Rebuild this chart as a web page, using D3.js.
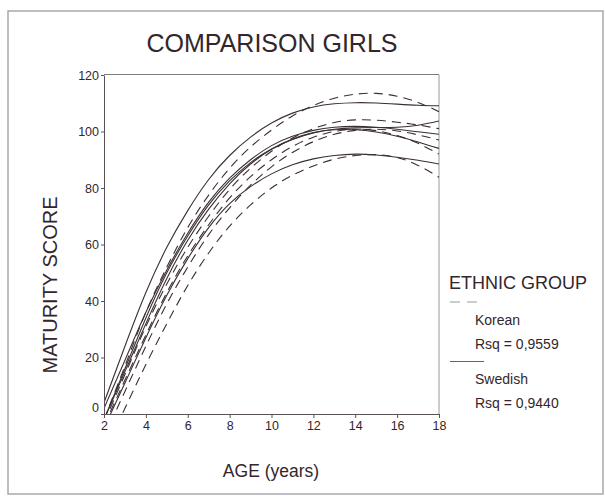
<!DOCTYPE html>
<html><head><meta charset="utf-8">
<script src="https://cdn.jsdelivr.net/npm/d3@7"></script>
<style>
body{margin:0;background:#fff}
text{font-family:"Liberation Sans",Arial,Helvetica,sans-serif;fill:#33262c}
</style>
</head><body>
<svg id="chart" width="605" height="496"></svg>
<script>
// ---- data ----
const ages = [2,3,4,5,6,7,8,9,10,11,12,13,14,15,16,17,18];

// Swedish (solid) fitted curves
const swedish1 = [4,24,43,59,72,83,91.5,98,103,106.5,108.7,109.8,110.2,110.1,109.7,109.3,109.1];
const swedish2 = [-2,16,34,50,63,74,82.5,89,93.8,97.2,99.5,100.8,101.3,101.4,101.5,102.2,103.7];
const swedish3 = [2,19,36,51,64,75,83.5,90,95,98.3,100.4,101.5,101.8,101.5,100.8,99.9,99];
const swedish4 = [-2,15,32,48,61.5,72.5,81.5,88.5,93.7,97.3,99.6,100.6,100.6,99.8,98.3,96.3,94];
const swedish5 = [-5,11,27,42,55,66,74.5,80.5,85,88.2,90.3,91.5,92,91.7,90.9,89.8,88.5];

// Korean (dashed) fitted curves
const korean1 = [-2,17,36,52,66,77.5,87,94.5,100.5,105.5,109.2,111.8,113.2,113.5,112.5,110.3,107];
const korean2 = [-3,14,31,46,59,70,79.5,87,93,97.7,101,103.2,104.1,104,103.3,102.3,101];
const korean3 = [-8,8,24,39,52,63.5,73,81,87.5,92.6,96.4,99,100.4,100.8,100.2,98.8,97];
const korean4 = [-4,12,28,43,56,67,76.5,84,90,94.7,98,100,100.8,100.3,98.6,95.8,92];
const korean5 = [-14,2,17.5,32,45.5,57,66.5,74,80,84.5,87.8,90.2,91.5,91.8,90.8,88,83.8];

const xTicks = [2,4,6,8,10,12,14,16,18];
const yTicks = [0,20,40,60,80,100,120];

const titleText = "COMPARISON GIRLS";
const xLabel = "AGE (years)";
const yLabel = "MATURITY SCORE";
const legendTitle = "ETHNIC GROUP";
const groupNames = ["Korean","Swedish"];
const groupRsq = ["Rsq = 0,9559","Rsq = 0,9440"];

// ---- drawing ----
const svg = d3.select("#chart");
const ink = "#3b2f35";

svg.append("rect").attr("x",8).attr("y",11).attr("width",595).attr("height",483)
  .attr("fill","none").attr("stroke","#a3a3a8").attr("stroke-width",1.4);

const x = d3.scaleLinear().domain([2,18]).range([104,439]);
const y = d3.scaleLinear().domain([0,120]).range([414,75]);

svg.append("defs").append("clipPath").attr("id","plotclip")
  .append("rect").attr("x",104).attr("y",75).attr("width",335).attr("height",339);

// plot frame (top & right)
svg.append("line").attr("x1",104).attr("x2",439).attr("y1",74.5).attr("y2",74.5)
  .attr("stroke","#7a7a82").attr("stroke-width",1);
svg.append("line").attr("x1",439).attr("x2",439).attr("y1",74.5).attr("y2",414)
  .attr("stroke","#9a9aa0").attr("stroke-width",1);

const line = d3.line().x((d,i)=>x(ages[i])).y(d=>y(d)).curve(d3.curveNatural);

const gCurves = svg.append("g").attr("clip-path","url(#plotclip)");
[swedish1,swedish2,swedish3,swedish4,swedish5].forEach(s=>{
  gCurves.append("path").attr("d",line(s)).attr("fill","none")
    .attr("stroke",ink).attr("stroke-width",1.1);
});
[korean1,korean2,korean3,korean4,korean5].forEach(s=>{
  gCurves.append("path").attr("d",line(s)).attr("fill","none")
    .attr("stroke",ink).attr("stroke-width",1.1).attr("stroke-dasharray","9,6");
});

// axes
const yAxis = svg.append("g").attr("transform","translate(104,0)")
  .call(d3.axisLeft(y).tickValues(yTicks).tickSize(3).tickSizeOuter(0).tickPadding(2));
const xAxis = svg.append("g").attr("transform","translate(0,414)")
  .call(d3.axisBottom(x).tickValues(xTicks).tickSize(4).tickSizeOuter(0).tickPadding(3));
[yAxis,xAxis].forEach(g=>{
  g.selectAll("path,line").attr("stroke","#5a5158");
  g.selectAll("text").attr("font-size","12.5px").attr("fill","#33262c")
    .style("font-family","'Liberation Sans',Arial,sans-serif");
});
yAxis.selectAll(".tick").filter(d=>d===0).select("text").attr("dy","-0.2em");

// titles
svg.append("text").attr("x",272).attr("y",52).attr("text-anchor","middle")
  .attr("font-size","25px").text(titleText);
svg.append("text").attr("transform","translate(57,285) rotate(-90)")
  .attr("text-anchor","middle").attr("font-size","20px").text(yLabel);
svg.append("text").attr("x",271).attr("y",477).attr("text-anchor","middle")
  .attr("font-size","17.5px").text(xLabel);

// legend
svg.append("text").attr("x",449).attr("y",289).attr("font-size","18px").text(legendTitle);
svg.append("line").attr("x1",450).attr("x2",484).attr("y1",302).attr("y2",302)
  .attr("stroke","#9a9aa0").attr("stroke-width",1.2).attr("stroke-dasharray","10,7");
svg.append("text").attr("x",475).attr("y",325).attr("font-size","14px").text(groupNames[0]);
svg.append("text").attr("x",475).attr("y",349).attr("font-size","14px").text(groupRsq[0]);
svg.append("line").attr("x1",450).attr("x2",484).attr("y1",361.5).attr("y2",361.5)
  .attr("stroke","#6a6066").attr("stroke-width",1.2);
svg.append("text").attr("x",475).attr("y",384).attr("font-size","14px").text(groupNames[1]);
svg.append("text").attr("x",475).attr("y",408).attr("font-size","14px").text(groupRsq[1]);
</script>
</body></html>
